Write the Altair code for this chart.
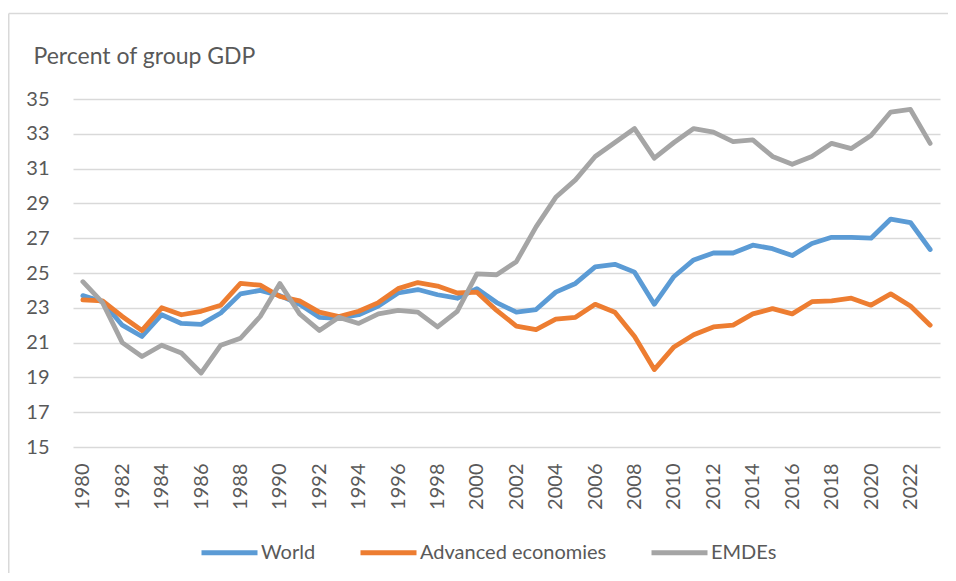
import altair as alt
import pandas as pd

years = list(range(1980, 2024))
series_names = ["World", "Advanced economies", "EMDEs"]
colors = ["#5B9BD5", "#ED7D31", "#A5A5A5"]

world = [23.7, 23.35, 22.0, 21.35, 22.6, 22.1, 22.05, 22.7, 23.8, 24.0,
         23.7, 23.2, 22.45, 22.4, 22.6, 23.1, 23.85, 24.05, 23.75, 23.55,
         24.1, 23.3, 22.75, 22.9, 23.9, 24.4, 25.35, 25.5, 25.05, 23.2,
         24.8, 25.75, 26.15, 26.15, 26.6, 26.4, 26.0, 26.7, 27.05, 27.05,
         27.0, 28.1, 27.9, 26.35]
advanced = [23.45, 23.4, 22.5, 21.7, 23.0, 22.6, 22.8, 23.15, 24.4, 24.3,
            23.65, 23.4, 22.75, 22.5, 22.8, 23.3, 24.1, 24.45, 24.25, 23.85,
            23.9, 22.85, 21.95, 21.75, 22.35, 22.45, 23.2, 22.75, 21.35, 19.45,
            20.75, 21.45, 21.9, 22.0, 22.65, 22.95, 22.65, 23.35, 23.4, 23.55,
            23.15, 23.8, 23.1, 22.0]
emdes = [24.5, 23.3, 21.0, 20.2, 20.85, 20.4, 19.25, 20.85, 21.25, 22.5,
         24.4, 22.65, 21.7, 22.45, 22.1, 22.65, 22.85, 22.75, 21.9, 22.8,
         24.95, 24.9, 25.65, 27.65, 29.35, 30.35, 31.7, 32.5, 33.3, 31.6,
         32.5, 33.3, 33.1, 32.55, 32.65, 31.7, 31.25, 31.7, 32.45, 32.15,
         32.9, 34.25, 34.4, 32.45]

y_ticks = list(range(15, 36, 2))
x_label_years = [str(y) for y in range(1980, 2024, 2)]

rows = []
for name, vals in zip(series_names, [world, advanced, emdes]):
    for yr, v in zip(years, vals):
        rows.append({"year": str(yr), "value": v, "series": name})
df = pd.DataFrame(rows)

FONT = "Lato"
TXT = "#595959"
GRID = "#D9D9D9"

lines = alt.Chart(df).mark_line(
    strokeWidth=4.8, strokeCap="round", strokeJoin="round"
).encode(
    x=alt.X("year:O", sort=[str(y) for y in years],
            scale=alt.Scale(type="point", padding=0.5),
            axis=alt.Axis(values=x_label_years, labelAngle=-90, domain=False,
                          ticks=False, labelPadding=16, labelFontSize=20,
                          labelColor=TXT, labelFont=FONT, title=None, grid=False)),
    y=alt.Y("value:Q", scale=alt.Scale(domain=[15, 35], nice=False, zero=False),
            axis=alt.Axis(values=y_ticks, domain=False, ticks=False, labelPadding=24,
                          labelFontSize=20, labelColor=TXT, labelFont=FONT,
                          gridColor=GRID, gridWidth=1.3,
                          title="Percent of group GDP", titleAngle=0,
                          titleX=-40, titleY=-36, titleAlign="left",
                          titleBaseline="alphabetic", titleFontSize=23,
                          titleFontWeight="normal", titleColor=TXT, titleFont=FONT)),
    color=alt.Color("series:N", sort=series_names,
                    scale=alt.Scale(domain=series_names, range=colors),
                    legend=alt.Legend(orient="none", legendX=126, legendY=423,
                                      direction="horizontal", title=None,
                                      symbolType="stroke", symbolSize=3136,
                                      symbolStrokeWidth=5, labelFontSize=20,
                                      labelColor=TXT, labelFont=FONT, labelLimit=400,
                                      labelOffset=1, columnPadding=34)),
)

frame_df = pd.DataFrame({"k": [0]})
left_border = alt.Chart(frame_df).mark_rule(color=GRID, strokeWidth=1.5).encode(
    x=alt.value(-64.25), y=alt.value(-85.5), y2=alt.value(700))
top_border = alt.Chart(frame_df).mark_rule(color=GRID, strokeWidth=1.5).encode(
    x=alt.value(-64.25), x2=alt.value(1000), y=alt.value(-85.5))

chart = alt.layer(left_border, top_border, lines).properties(
    width=867, height=348,
    autosize=alt.AutoSizeParams(type="none"),
    padding={"left": 65, "top": 91, "right": 8, "bottom": 126},
).configure_view(stroke=None)

chart.save("out.html", embed_options={"renderer": "svg", "actions": False})
